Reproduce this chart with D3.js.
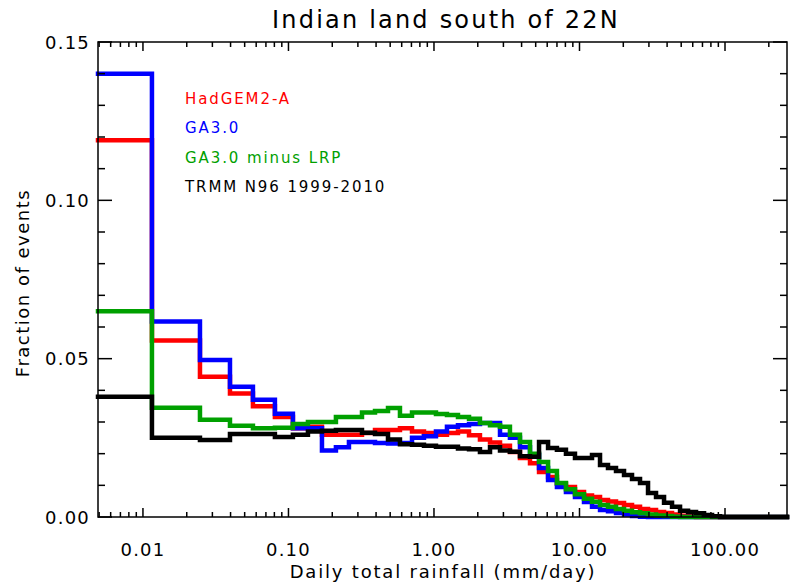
<!DOCTYPE html>
<html><head><meta charset="utf-8">
<script src="https://cdn.jsdelivr.net/npm/d3@7"></script>
<style>body{margin:0;background:#fff}svg{display:block}text{font-family:"DejaVu Sans",sans-serif;fill:#000}</style>
</head><body><svg id="c" width="796" height="585"></svg>
<script>
// Bin edges (mm/day)
const binEdges = [0.00491,0.01153,0.02465,0.03963,0.0570,0.0807,0.1073,0.1361,0.1699,0.2119,0.2604,0.3201,0.3933,0.4831,0.5838,0.7063,0.8536,1.032,1.228,1.462,1.741,2.070,2.427,2.843,3.327,3.899,4.570,5.272,6.081,6.998,8.072,9.311,10.74,12.19,13.84,15.70,17.82,20.23,22.96,26.06,29.58,33.57,38.11,43.25,49.09,55.72,63.24,71.78,81.47,92.47,104.9,119.1,135.2,153.5,174.2,197.7,224.4,266.7];
const seriesNames = ["HadGEM2-A","GA3.0","GA3.0 minus LRP","TRMM N96 1999-2010"];
const seriesColors = ["#ff0000","#0000ff","#00a000","#000000"];
const hadgem = [0.119,0.0557,0.0443,0.039,0.035,0.0316,0.028,0.0285,0.026,0.026,0.026,0.0265,0.0275,0.0275,0.028,0.027,0.0265,0.026,0.0265,0.027,0.0258,0.0245,0.0235,0.0225,0.0205,0.0186,0.017,0.0142,0.0126,0.0105,0.0095,0.0079,0.0068,0.0063,0.0054,0.0049,0.0044,0.0038,0.0032,0.0025,0.0022,0.0016,0.0013,0.0008,0.0004,0.0002,0,0,0,0,0,0,0,0,0,0,0];
const ga30 = [0.140,0.0617,0.0496,0.0411,0.037,0.0326,0.028,0.028,0.021,0.022,0.0237,0.0237,0.0234,0.0232,0.0234,0.025,0.0255,0.027,0.0285,0.029,0.0294,0.0297,0.0297,0.026,0.025,0.022,0.0196,0.0155,0.0117,0.0095,0.0079,0.0063,0.0047,0.0032,0.0022,0.0018,0.0013,0.0008,0.0003,0.0001,0,0,0,0,0,0,0,0,0,0,0,0,0,0,0,0,0];
const ga30lrp = [0.065,0.0345,0.0307,0.0288,0.028,0.0282,0.0294,0.030,0.030,0.0316,0.0316,0.033,0.0335,0.0344,0.032,0.033,0.033,0.0325,0.0322,0.0316,0.031,0.0297,0.029,0.0285,0.026,0.0237,0.020,0.0174,0.0145,0.0107,0.0088,0.0072,0.0058,0.0048,0.0038,0.0032,0.0025,0.002,0.0015,0.0012,0.0008,0.0005,0.0003,0.0001,0,0,0,0,0,0,0,0,0,0,0,0,0];
const trmm = [0.038,0.025,0.0243,0.0262,0.0262,0.0253,0.026,0.027,0.0272,0.0275,0.0275,0.0266,0.0262,0.0245,0.023,0.0228,0.0225,0.0222,0.0222,0.0216,0.0214,0.0205,0.022,0.021,0.0206,0.0192,0.019,0.0237,0.0218,0.0212,0.020,0.0186,0.0186,0.0196,0.0164,0.0155,0.0145,0.0133,0.012,0.0107,0.0076,0.0063,0.0045,0.0032,0.002,0.0016,0.0012,0.0006,0.0002,0,0,0,0,0,0,0,0];
const allSeries = [hadgem, ga30, ga30lrp, trmm];
const xMajorTicks = [0.01,0.1,1,10,100];
const xTickLabels = ["0.01","0.10","1.00","10.00","100.00"];
const yMajorTicks = [0,0.05,0.10,0.15];
const yTickLabels = ["0.00","0.05","0.10","0.15"];

const svg = d3.select("#c");
const L=98, R=787, T=42, B=517;
const x = d3.scaleLog().domain([binEdges[0], binEdges[binEdges.length-1]]).range([L,R]);
const y = d3.scaleLinear().domain([0,0.15]).range([B,T]);

// series
const line = d3.line().x(d=>x(d[0])).y(d=>y(d[1])).curve(d3.curveStepAfter);
allSeries.forEach((s,i)=>{
  const pts = s.map((v,j)=>[binEdges[j],v]);
  pts.push([binEdges[binEdges.length-1], s[s.length-1]]);
  svg.append("path").attr("d", line(pts)).attr("fill","none")
    .attr("stroke", seriesColors[i]).attr("stroke-width",4.5).attr("stroke-linejoin","miter").attr("stroke-linecap","square");
});

// minor ticks
const xMinor = [];
[0.001,0.01,0.1,1,10,100].forEach(d=>{for(let k=2;k<=9;k++){const v=d*k; if(v>binEdges[0]&&v<binEdges[binEdges.length-1]) xMinor.push(v);}});
const yMinor = d3.range(0,16).map(d=>d/100).filter(v=>Math.round(v*100)%5!==0);

const g = svg.append("g").attr("stroke","#000").attr("stroke-width",1.5);
g.append("rect").attr("x",L).attr("y",T).attr("width",R-L).attr("height",B-T).attr("fill","none");
xMajorTicks.forEach(v=>{
  g.append("line").attr("x1",x(v)).attr("x2",x(v)).attr("y1",B).attr("y2",B-9);
  g.append("line").attr("x1",x(v)).attr("x2",x(v)).attr("y1",T).attr("y2",T+9);
});
xMinor.forEach(v=>{
  g.append("line").attr("x1",x(v)).attr("x2",x(v)).attr("y1",B).attr("y2",B-5);
  g.append("line").attr("x1",x(v)).attr("x2",x(v)).attr("y1",T).attr("y2",T+5);
});
yMajorTicks.forEach(v=>{
  g.append("line").attr("x1",L).attr("x2",L+14).attr("y1",y(v)).attr("y2",y(v));
  g.append("line").attr("x1",R).attr("x2",R-14).attr("y1",y(v)).attr("y2",y(v));
});
yMinor.forEach(v=>{
  g.append("line").attr("x1",L).attr("x2",L+7).attr("y1",y(v)).attr("y2",y(v));
  g.append("line").attr("x1",R).attr("x2",R-7).attr("y1",y(v)).attr("y2",y(v));
});

// tick labels
xMajorTicks.forEach((v,i)=>{
  svg.append("text").attr("x",x(v)).attr("y",556).attr("text-anchor","middle").attr("font-size",18).attr("letter-spacing",1.2).text(xTickLabels[i]);
});
yMajorTicks.forEach((v,i)=>{
  svg.append("text").attr("x",90).attr("y",y(v)+6.5).attr("text-anchor","end").attr("font-size",18).attr("letter-spacing",1.2).text(yTickLabels[i]);
});
svg.append("text").attr("x",443).attr("y",578).attr("text-anchor","middle").attr("font-size",18).attr("letter-spacing",1.8).text("Daily total rainfall (mm/day)");
svg.append("text").attr("transform","translate(29,283) rotate(-90)").attr("text-anchor","middle").attr("font-size",18).attr("letter-spacing",1.5).text("Fraction of events");
svg.append("text").attr("x",446).attr("y",28).attr("text-anchor","middle").attr("font-size",24).attr("letter-spacing",2.2).text("Indian land south of 22N");

// legend
seriesNames.forEach((n,i)=>{
  svg.append("text").attr("x",185).attr("y",103.5+i*29.5).attr("font-size",15).attr("letter-spacing",1.9).style("fill",seriesColors[i]).text(n);
});
</script></body></html>
